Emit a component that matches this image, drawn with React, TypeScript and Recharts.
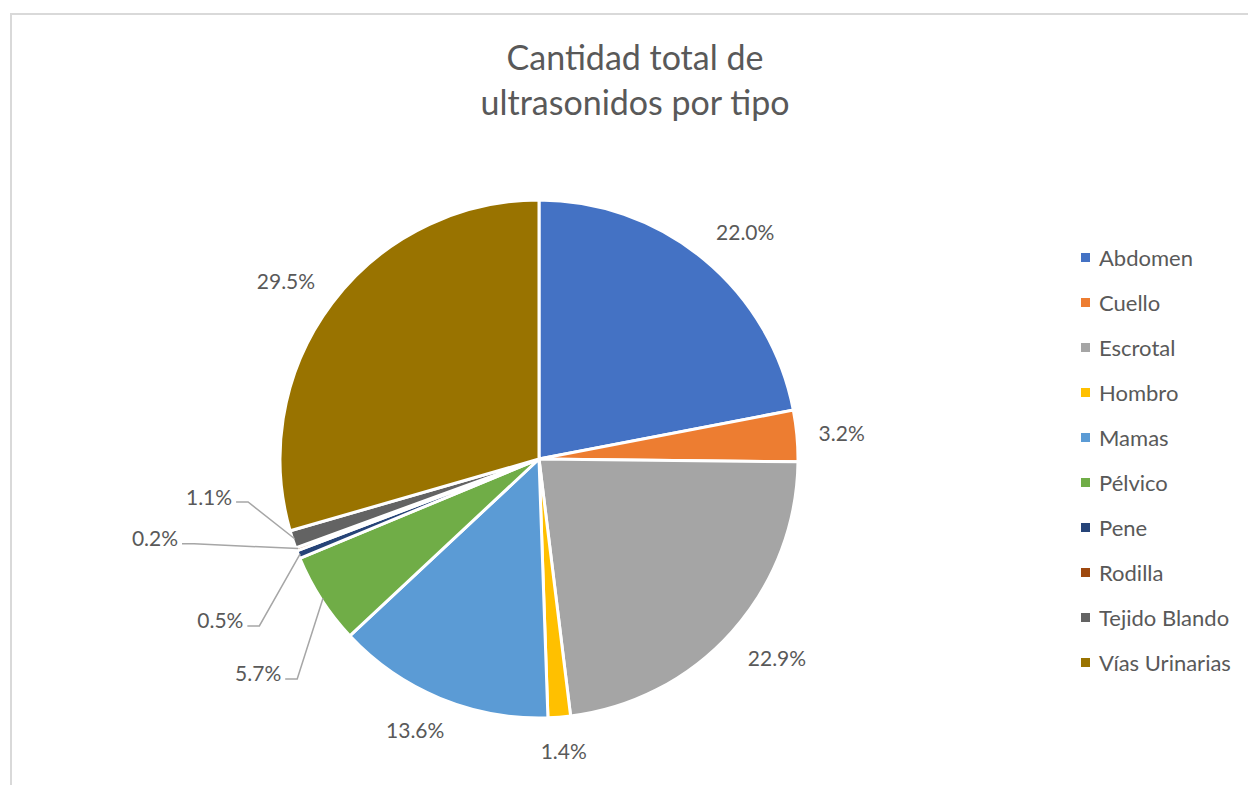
import { PieChart, Pie, Cell, Legend } from 'recharts';

const CATEGORIES = [
  'Abdomen',
  'Cuello',
  'Escrotal',
  'Hombro',
  'Mamas',
  'Pélvico',
  'Pene',
  'Rodilla',
  'Tejido Blando',
  'Vías Urinarias',
];

const PERCENTS = [22.0, 3.2, 22.9, 1.4, 13.6, 5.7, 0.5, 0.2, 1.1, 29.5];

const COLORS = [
  '#4472C4',
  '#ED7D31',
  '#A5A5A5',
  '#FFC000',
  '#5B9BD5',
  '#70AD47',
  '#264478',
  '#9E480E',
  '#636363',
  '#997300',
];

const TEXT = '#595959';
const FONT = 'Lato, "Open Sans", sans-serif';
const RAD = Math.PI / 180;

// labels of the thin slices sit off the pie with a leader line (compass angle, distance)
const LABEL_OUT: Record<number, { angle: number; dist: number }> = {
  5: { angle: 232.7, dist: 353 },
  6: { angle: 243.2, dist: 357 },
  7: { angle: 258.4, dist: 392 },
  8: { angle: 263.6, dist: 332 },
};

const data = CATEGORIES.map((name, i) => ({ name, value: PERCENTS[i] }));

const clamp = (v: number) => Math.max(-1, Math.min(1, v));

function renderLabel(props: any) {
  const { cx, cy, midAngle, outerRadius, index, value } = props;
  const text = `${value.toFixed(1)}%`;
  const ma = -midAngle * RAD;
  const out = LABEL_OUT[index];

  if (!out) {
    // outside end: the label box hangs off a point just past the rim
    const ux = Math.cos(ma);
    const uy = Math.sin(ma);
    const halfW = text.length * 5.7;
    const halfH = 11;
    const d = outerRadius + 22;
    const x = cx + d * ux + clamp(ux * 1.5) * halfW;
    const y = cy + d * uy + clamp(uy * 1.5) * halfH;
    return (
      <text key={`l${index}`} x={x} y={y} fill={TEXT} fontSize={21} fontFamily={FONT} textAnchor="middle" dominantBaseline="central">
        {text}
      </text>
    );
  }

  const th = out.angle * RAD;
  const x = cx + out.dist * Math.sin(th);
  const y = cy - out.dist * Math.cos(th);
  const ax = cx + (outerRadius - 2) * Math.cos(ma);
  const ay = cy + (outerRadius - 2) * Math.sin(ma);
  const x0 = x + 27;
  const ly = y + 6;
  return (
    <g key={`l${index}`}>
      <polyline points={`${x0},${ly} ${x0 + 12},${ly} ${ax},${ay}`} fill="none" stroke="#A6A6A6" strokeWidth={1.5} />
      <text x={x} y={y} fill={TEXT} fontSize={21} fontFamily={FONT} textAnchor="middle" dominantBaseline="central">
        {text}
      </text>
    </g>
  );
}

function LegendList() {
  return (
    <div style={{ fontFamily: FONT }}>
      {CATEGORIES.map((name, i) => (
        <div key={name} style={{ display: 'flex', alignItems: 'center', height: 45 }}>
          <span style={{ width: 9, height: 9, background: COLORS[i], marginRight: 9 }} />
          <span style={{ color: TEXT, fontSize: 22 }}>{name}</span>
        </div>
      ))}
    </div>
  );
}

export default function App() {
  return (
    <div style={{ position: 'fixed', left: 0, top: 0, width: 1248, height: 785, background: '#fff', overflow: 'hidden' }}>
      <div
        style={{
          position: 'absolute',
          left: 10,
          top: 13,
          width: 1300,
          height: 900,
          borderLeft: '2px solid #D9D9D9',
          borderTop: '2px solid #D9D9D9',
        }}
      />
      <div
        style={{
          position: 'absolute',
          left: 0,
          top: 34,
          width: 1270,
          textAlign: 'center',
          fontFamily: FONT,
          fontSize: 34,
          lineHeight: '45px',
          color: TEXT,
        }}
      >
        Cantidad total de
        <br />
        ultrasonidos por tipo
      </div>
      <div style={{ position: 'absolute', left: 0, top: 0 }}>
        <PieChart width={1248} height={785} margin={{ top: 0, right: 0, bottom: 0, left: 0 }}>
          <Pie
            data={data}
            dataKey="value"
            nameKey="name"
            cx={539}
            cy={459}
            outerRadius={259}
            startAngle={90}
            endAngle={-270}
            stroke="#fff"
            strokeWidth={3}
            label={renderLabel}
            labelLine={false}
            isAnimationActive={false}
          >
            {data.map((d, i) => (
              <Cell key={d.name} fill={COLORS[i]} />
            ))}
          </Pie>
          <Legend
            layout="vertical"
            align="right"
            verticalAlign="top"
            content={() => <LegendList />}
            wrapperStyle={{ left: 1081, top: 235, width: 170 }}
          />
        </PieChart>
      </div>
    </div>
  );
}
